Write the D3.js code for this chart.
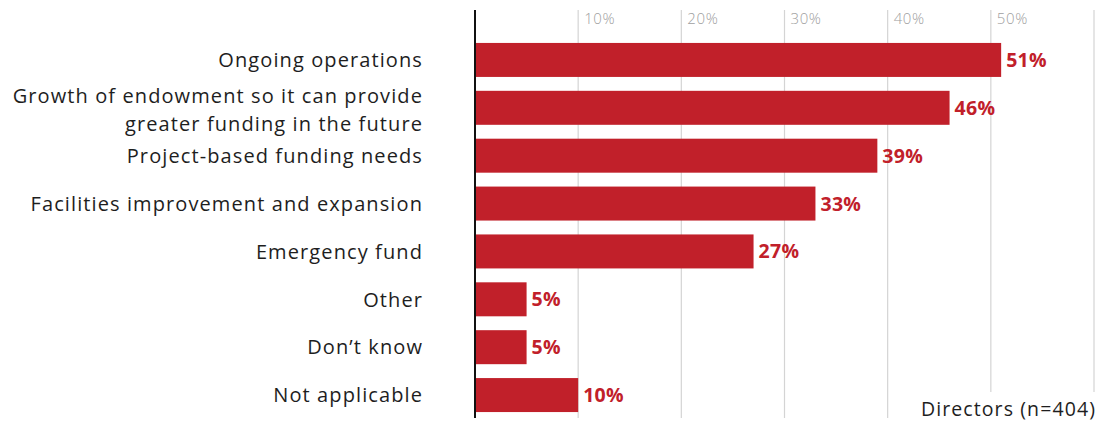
<!DOCTYPE html>
<html>
<head>
<meta charset="utf-8">
<script src="https://cdn.jsdelivr.net/npm/d3@7"></script>
<style>
  html, body { margin: 0; padding: 0; background: #fff; }
  svg { display: block; font-family: "Open Sans", Lato, sans-serif; }
</style>
</head>
<body>
<svg id="chart" width="1099" height="421"></svg>
<script>
// Purposes of the endowment, share of directors
const categories = [
  ["Ongoing operations"],
  ["Growth of endowment so it can provide", "greater funding in the future"],
  ["Project-based funding needs"],
  ["Facilities improvement and expansion"],
  ["Emergency fund"],
  ["Other"],
  ["Don\u2019t know"],
  ["Not applicable"]
];
const values = [51, 46, 39, 33, 27, 5, 5, 10];
const tickValues = [10, 20, 30, 40, 50, 60];
const tickLabels = ["10%", "20%", "30%", "40%", "50%", ""];
const note = "Directors (n=404)";

const svg = d3.select("#chart");
const x0 = 475;
const x = d3.scaleLinear().domain([0, 60]).range([x0, x0 + 619]);
const y = d3.scaleBand()
  .domain(d3.range(categories.length))
  .range([36, 419])
  .paddingInner(0.29)
  .paddingOuter(0.145);

const red = "#c1202a";

// vertical gridlines
svg.append("g").selectAll("line")
  .data(tickValues)
  .join("line")
  .attr("x1", d => x(d)).attr("x2", d => x(d))
  .attr("y1", 10).attr("y2", 418)
  .attr("stroke", "#d4d4d4")
  .attr("stroke-width", 1.2);

// tick labels along the top
svg.append("g").selectAll("text")
  .data(tickValues)
  .join("text")
  .attr("x", d => x(d) + 6)
  .attr("y", 24)
  .attr("font-size", 15)
  .attr("font-weight", 300)
  .attr("letter-spacing", 0.6)
  .attr("fill", "#a0a0a0")
  .text((d, i) => tickLabels[i]);

// bars
svg.append("g").selectAll("rect")
  .data(values)
  .join("rect")
  .attr("x", x(0))
  .attr("y", (d, i) => y(i))
  .attr("width", d => x(d) - x(0))
  .attr("height", y.bandwidth())
  .attr("fill", red);

// value labels
svg.append("g").selectAll("text")
  .data(values)
  .join("text")
  .attr("x", d => x(d) + 5)
  .attr("y", (d, i) => y(i) + y.bandwidth() / 2)
  .attr("dy", "0.36em")
  .attr("font-size", 19.5)
  .attr("font-weight", 700)
  .attr("letter-spacing", 0.3)
  .attr("fill", red)
  .text(d => d + "%");

// category labels, one text per line
const lineGap = 27.4;
const catLines = [];
categories.forEach((lines, i) => {
  const n = lines.length;
  const shift = n > 1 ? 2 : 0;
  lines.forEach((s, j) => catLines.push({ i, s, off: (j - (n - 1) / 2) * lineGap + shift }));
});
svg.append("g").selectAll("text")
  .data(catLines)
  .join("text")
  .attr("x", 423)
  .attr("y", d => y(d.i) + y.bandwidth() / 2 + d.off)
  .attr("dy", "0.36em")
  .attr("text-anchor", "end")
  .attr("font-size", 20)
  .attr("letter-spacing", 1.1)
  .attr("fill", "#1e1e1e")
  .text(d => d.s);

// baseline axis
svg.append("line")
  .attr("x1", x(0)).attr("x2", x(0))
  .attr("y1", 10).attr("y2", 418)
  .attr("stroke", "#111")
  .attr("stroke-width", 2);

// sample note with a white backing
const noteG = svg.append("g");
const noteText = noteG.append("text")
  .attr("x", 1096)
  .attr("y", 416)
  .attr("text-anchor", "end")
  .attr("font-size", 19.5)
  .attr("letter-spacing", 1.1)
  .attr("fill", "#1e1e1e")
  .text(note);
const bb = noteText.node().getBBox();
noteG.insert("rect", "text")
  .attr("x", bb.x - 4).attr("y", bb.y - 3)
  .attr("width", bb.width + 8).attr("height", bb.height + 6)
  .attr("fill", "#fff");
</script>
</body>
</html>
